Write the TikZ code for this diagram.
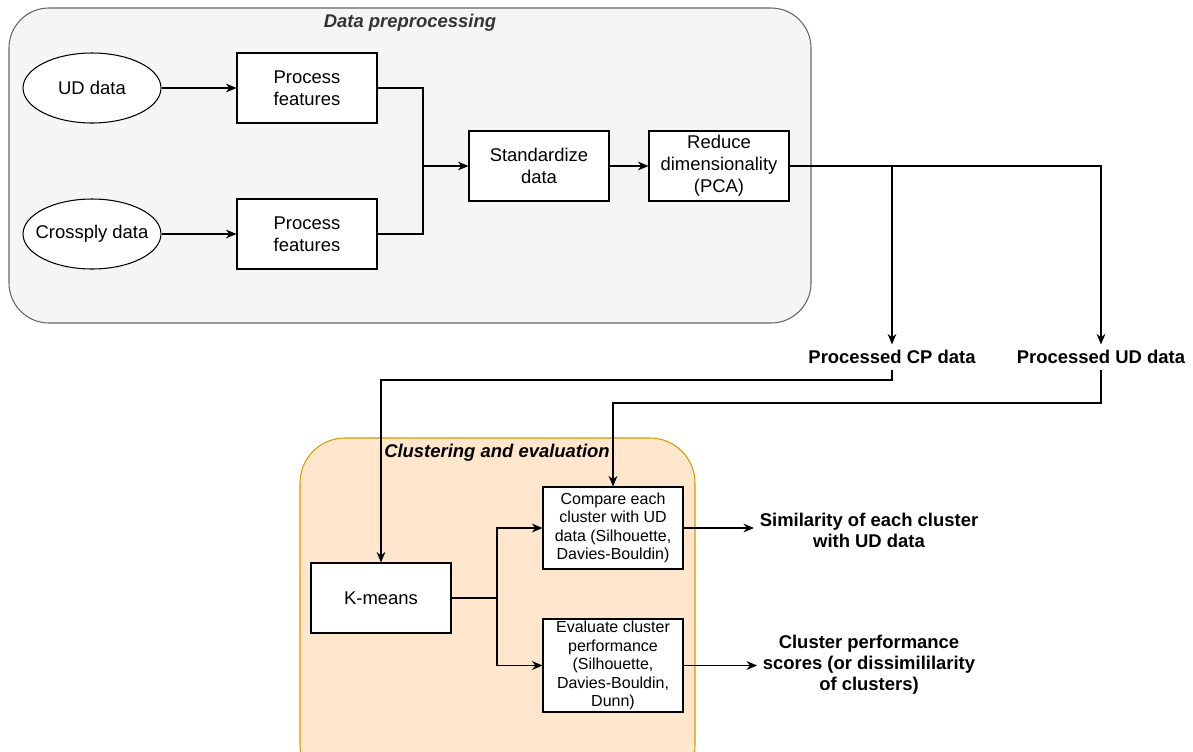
\documentclass[tikz,border=0pt]{standalone}
\usepackage{fontspec}
\setmainfont{Liberation Sans}
\usetikzlibrary{shapes.geometric,arrows.meta}

\definecolor{prepfill}{HTML}{F5F5F5}
\definecolor{prepline}{HTML}{666666}
\definecolor{clustfill}{HTML}{FFE6CC}
\definecolor{clustline}{HTML}{D79B00}

\tikzset{
	stepbox/.style={draw, fill=white, minimum width=2.8cm, minimum height=1.4cm, align=center, inner sep=1pt, font=\fontsize{10.5}{12.5}\selectfont},
	smallbox/.style={draw, fill=white, minimum width=2.8cm, align=center, inner sep=1pt, font=\fontsize{9.1}{10.5}\selectfont},
	source/.style={ellipse, draw, fill=white, minimum width=2.76cm, minimum height=1.4cm, inner ysep=0pt, inner xsep=-5pt, font=\fontsize{10.5}{12.5}\selectfont},
	result/.style={align=center, inner sep=3pt, font=\bfseries\fontsize{10.5}{12}\selectfont},
	grouptitle/.style={font=\bfseries\itshape\fontsize{10.5}{12.5}\selectfont}
}

\begin{document}
\begin{tikzpicture}[x=0.02cm, y=-0.02cm, >={Stealth[length=6pt,width=5pt]}, line width=0.6pt]
		\useasboundingbox (0,0) rectangle (1193,751);
		\clip (0,0) rectangle (1193,751);
		% groups
		\draw[fill=prepfill, draw=prepline, rounded corners=0.8cm] (9,8) rectangle (811,323);
		\node[grouptitle, text=black!80] (preptitle) at (410,23) {Data preprocessing};
		\draw[fill=clustfill, draw=clustline, rounded corners=0.9cm] (300,438) rectangle (695,790);
		\node[grouptitle] (clusttitle) at (497,453) {Clustering and evaluation};
		% preprocessing
		\node[source] (ud) at (92,88) {UD data};
		\node[source] (cp) at (92,234) {Crossply data};
		\node[stepbox] (pf1) at (307,88) {Process\\features};
		\node[stepbox] (pf2) at (307,234) {Process\\features};
		\node[stepbox] (std) at (539,166) {Standardize\\data};
		\node[stepbox] (pca) at (719,166) {Reduce\\dimensionality\\(PCA)};
		\coordinate (join) at (423,166);
		\draw[->] (ud) -- (pf1);
		\draw[->] (cp) -- (pf2);
		\draw (pf1.east) -| (join);
		\draw (pf2.east) -| (join);
		\draw[->] (join) -- (std);
		\draw[->] (std) -- (pca);
		% processed data
		\node[result] (cpdata) at (892,357) {Processed CP data};
		\node[result] (uddata) at (1101,357) {Processed UD data};
		\coordinate (split) at (892,166);
		\draw[->] (pca.east) -| (uddata.north);
		\draw[->] (split) -- (cpdata.north);
		% clustering
		\node[stepbox] (km) at (381,598) {K-means};
		\node[smallbox, minimum height=1.64cm] (cmp) at (613,528) {Compare each\\cluster with UD\\data (Silhouette,\\Davies-Bouldin)};
		\node[smallbox, minimum height=1.86cm] (eval) at (613,665.5) {Evaluate cluster\\performance\\(Silhouette,\\Davies-Bouldin,\\Dunn)};
		\coordinate (cpturn) at (892,380);
		\coordinate (udturn) at (1101,403);
		\draw[->] (cpdata.south) -- (cpturn) -| (km.north);
		\draw[->] (uddata.south) -- (udturn) -| (cmp.north);
		\coordinate (fork) at (497,598);
		\draw (km.east) -- (fork);
		\draw[->] (fork) |- (cmp.west);
		\draw[->] (fork) |- (eval.west);
		% outcomes
		\node[result] (sim) at (869,530) {Similarity of each cluster\\with UD data};
		\node[result] (perf) at (869,665) {Cluster performance\\scores (or dissimililarity\\of clusters)};
		\draw[->] (cmp.east) -- (cmp.east -| sim.west);
		\draw[->] (eval.east) -- (eval.east -| perf.west);
\end{tikzpicture}
\end{document}
